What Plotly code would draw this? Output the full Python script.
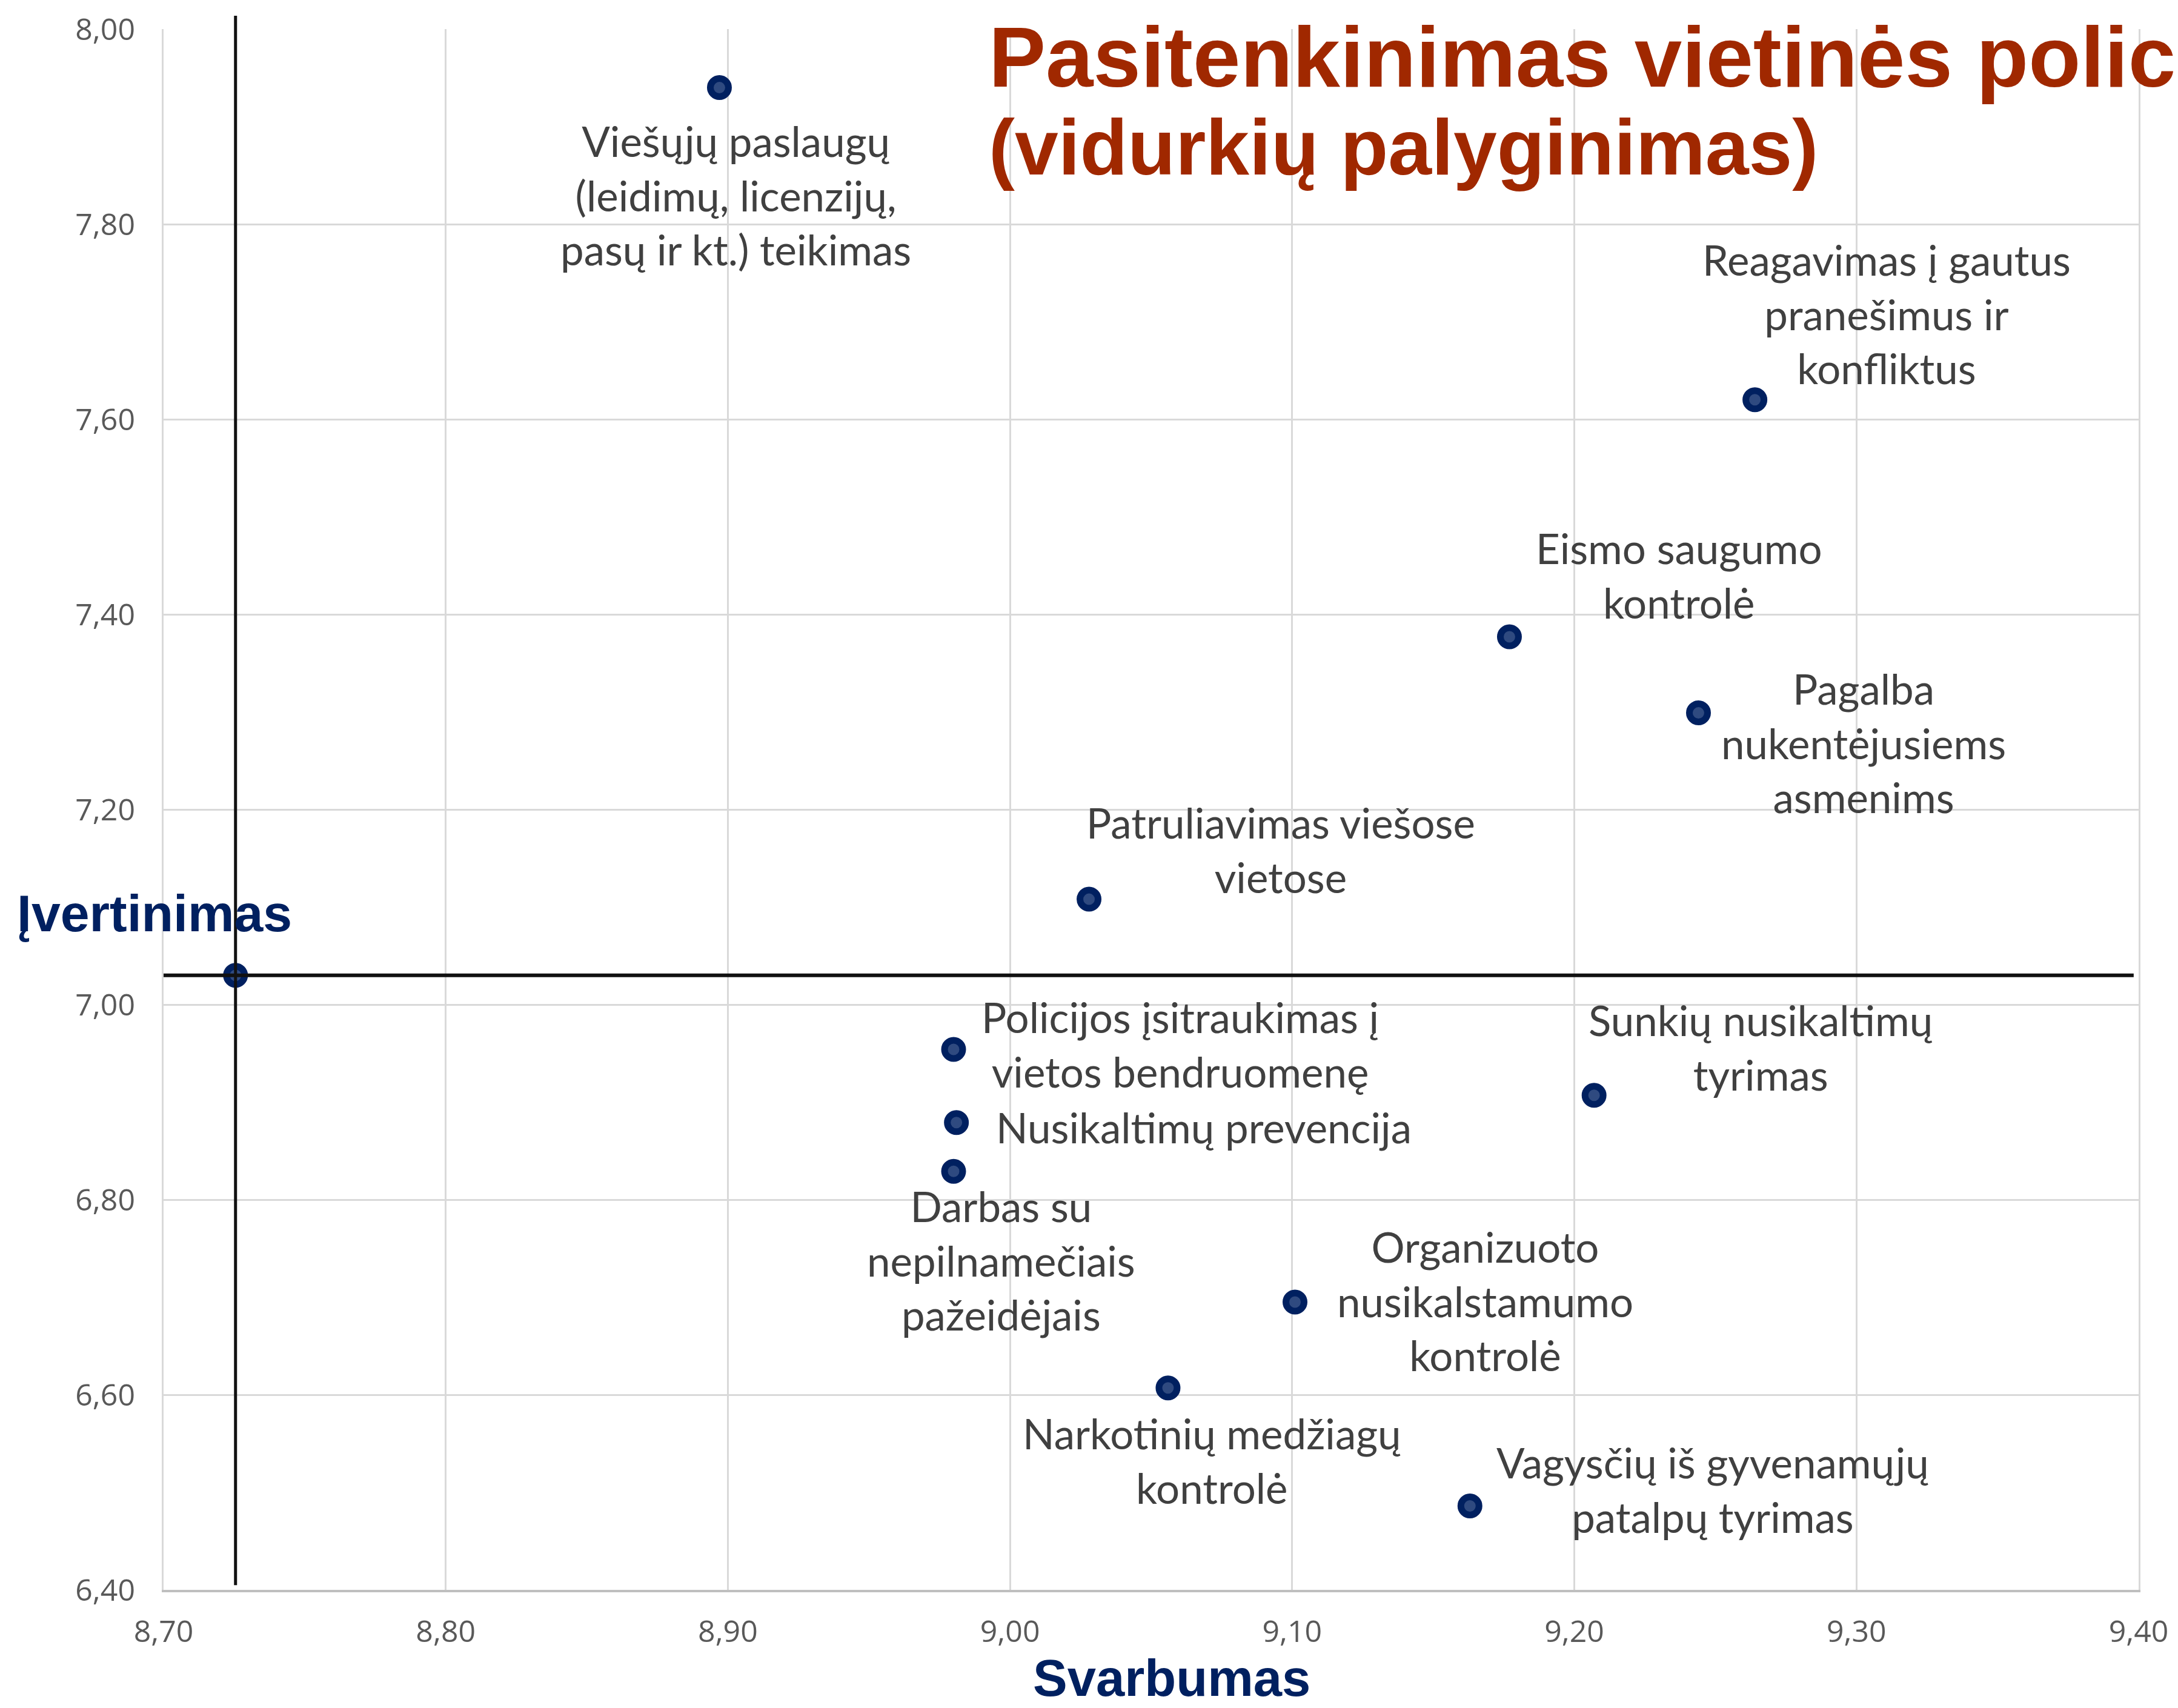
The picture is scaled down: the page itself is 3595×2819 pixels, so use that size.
import plotly.graph_objects as go

# --- data ---
labels = [
    "Viešųjų paslaugų<br>(leidimų, licenzijų,<br>pasų ir kt.) teikimas",
    "Reagavimas į gautus<br>pranešimus ir<br>konfliktus",
    "Eismo saugumo<br>kontrolė",
    "Pagalba<br>nukentėjusiems<br>asmenims",
    "Patruliavimas viešose<br>vietose",
    "Policijos įsitraukimas į<br>vietos bendruomenę",
    "Nusikaltimų prevencija",
    "Darbas su<br>nepilnamečiais<br>pažeidėjais",
    "Sunkių nusikaltimų<br>tyrimas",
    "Organizuoto<br>nusikalstamumo<br>kontrolė",
    "Narkotinių medžiagų<br>kontrolė",
    "Vagysčių iš gyvenamųjų<br>patalpų tyrimas",
]
svarbumas = [8.897, 9.264, 9.177, 9.244, 9.028, 8.980, 8.981, 8.980, 9.207, 9.101, 9.056, 9.163]
ivertinimas = [7.940, 7.620, 7.377, 7.299, 7.108, 6.954, 6.879, 6.829, 6.907, 6.695, 6.607, 6.486]

# overall averages (crosshair)
avg_svarbumas = 8.7255
avg_ivertinimas = 7.030

x_ticks = [8.70, 8.80, 8.90, 9.00, 9.10, 9.20, 9.30, 9.40]
y_ticks = [6.40, 6.60, 6.80, 7.00, 7.20, 7.40, 7.60, 7.80, 8.00]

# label offsets from each point, in pixels (right, down)
label_offsets = [(27, 177), (217, -142), (280, -102), (273, 49), (316, -82), (374, -9),
                 (408, 8), (78, 147), (275, -79), (314, -2), (73, 120), (401, -27)]

W, H = 3595, 2819
L, R, T, B = 270, 65, 44, 195
PW, PH = W - L - R, H - T - B


def px_to_paper(px, py):
    return (px - L) / PW, (H - B - py) / PH


NAVY = "#002060"
LABEL_FONT = dict(family="Lato, Noto Sans, sans-serif", size=69, color="#404040")

fig = go.Figure()

# crosshair lines through the averages
fig.add_shape(type="line", xref="x", yref="paper",
              x0=avg_svarbumas, x1=avg_svarbumas, y0=0.003, y1=1.0085,
              line=dict(color="#111111", width=5), layer="above")
fig.add_shape(type="line", xref="paper", yref="y",
              x0=0, x1=0.9975, y0=avg_ivertinimas, y1=avg_ivertinimas,
              line=dict(color="#111111", width=6), layer="above")

fig.add_trace(go.Scatter(
    x=svarbumas + [avg_svarbumas],
    y=ivertinimas + [avg_ivertinimas],
    mode="markers",
    marker=dict(size=30, color="#2F4A80", line=dict(color=NAVY, width=11)),
    hoverinfo="x+y",
    showlegend=False,
))

for lab, xv, yv, (dx, dy) in zip(labels, svarbumas, ivertinimas, label_offsets):
    fig.add_annotation(x=xv, y=yv, xref="x", yref="y", text=lab, showarrow=False,
                       xshift=dx, yshift=-dy, xanchor="center", yanchor="middle",
                       align="center", font=LABEL_FONT)

# title (runs off the right edge like the original slide)
tx, ty1 = px_to_paper(1630, 90)
_, ty2 = px_to_paper(1630, 240)
fig.add_annotation(xref="paper", yref="paper", x=tx, y=ty1, xanchor="left", yanchor="middle",
                   text="<b>Pasitenkinimas vietinės policijos</b>", showarrow=False,
                   font=dict(family="Liberation Sans, Arial, sans-serif", size=141, color="#A02800"))
fig.add_annotation(xref="paper", yref="paper", x=tx, y=ty2, xanchor="left", yanchor="middle",
                   text="<b>(vidurkių palyginimas)</b>", showarrow=False,
                   font=dict(family="Liberation Sans, Arial, sans-serif", size=129, color="#A02800"))

# axis titles
ax, ay = px_to_paper(255, 1505)
fig.add_annotation(xref="paper", yref="paper", x=ax, y=ay, xanchor="center", yanchor="middle",
                   text="<b>Įvertinimas</b>", showarrow=False,
                   font=dict(family="Liberation Sans, Arial, sans-serif", size=86, color=NAVY))
bx, by = px_to_paper(1934, H)
fig.add_annotation(xref="paper", yref="paper", x=bx, y=by, xanchor="center", yanchor="bottom",
                   text="<b>Svarbumas</b>", showarrow=False,
                   font=dict(family="Liberation Sans, Arial, sans-serif", size=85, color=NAVY))

tick_font = dict(family="Open Sans, sans-serif", size=50, color="#595959")
fig.update_xaxes(range=[x_ticks[0], x_ticks[-1]], tickvals=x_ticks, tickformat=".2f",
                 showgrid=True, gridcolor="#D9D9D9", gridwidth=3,
                 showline=True, linecolor="#BFBFBF", linewidth=4,
                 ticks="outside", ticklen=22, tickcolor="rgba(0,0,0,0)",
                 tickfont=tick_font, zeroline=False)
fig.update_yaxes(range=[y_ticks[0], y_ticks[-1]], tickvals=y_ticks, tickformat=".2f",
                 showgrid=True, gridcolor="#D9D9D9", gridwidth=3,
                 showline=True, mirror=True, linecolor="#D9D9D9", linewidth=3,
                 ticks="outside", ticklen=34, tickcolor="rgba(0,0,0,0)",
                 tickfont=tick_font, zeroline=False)

fig.update_layout(
    width=W, height=H,
    margin=dict(l=L, r=R, t=T, b=B),
    paper_bgcolor="white", plot_bgcolor="white",
    separators=", ",
    showlegend=False,
)

# drop the default page margin so the chart sits at the window corner
fig.write_html("out.html", config={"displayModeBar": False},
               post_script="document.body.style.margin='0';")
